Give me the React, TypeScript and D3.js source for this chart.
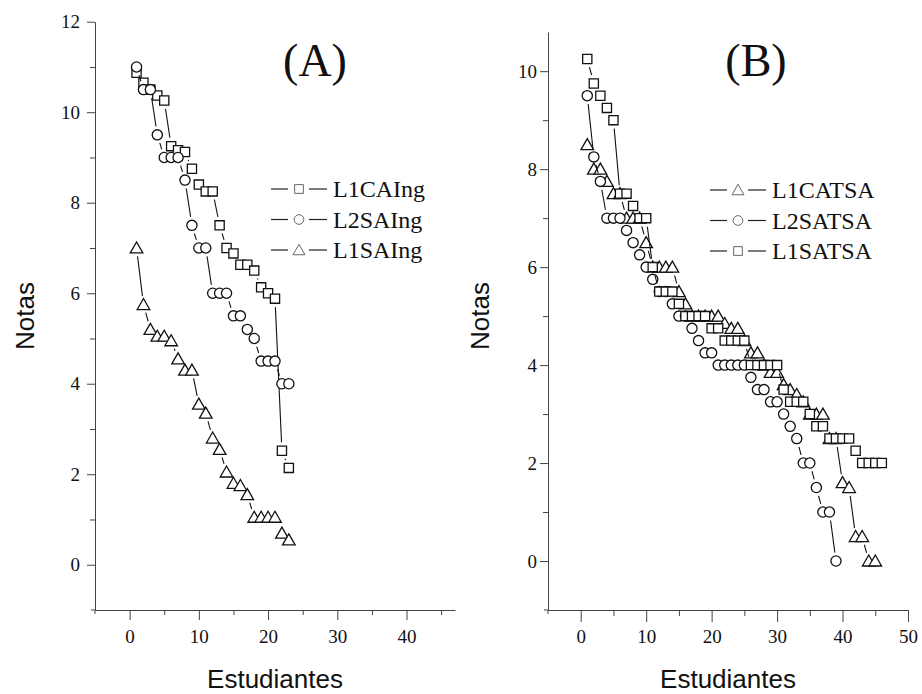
import React, { useEffect, useRef } from "react";
import * as d3 from "d3";

// Panel A: grades per student (sorted), three groups
const l1caIng = [10.87, 10.65, 10.5, 10.37, 10.26, 9.25, 9.16, 9.12, 8.75, 8.4, 8.25, 8.25, 7.5, 7.0, 6.88, 6.63, 6.63, 6.5, 6.13, 6.0, 5.88, 2.52, 2.14];
const l2saIng = [11, 10.5, 10.5, 9.5, 9, 9, 9, 8.5, 7.5, 7, 7, 6, 6, 6, 5.5, 5.5, 5.2, 5.0, 4.5, 4.5, 4.5, 4, 4];
const l1saIng = [7.0, 5.75, 5.2, 5.05, 5.05, 4.95, 4.55, 4.3, 4.3, 3.55, 3.35, 2.8, 2.55, 2.05, 1.8, 1.75, 1.55, 1.05, 1.05, 1.05, 1.05, 0.7, 0.55];

// Panel B
const l1caTsa = [8.5, 8.0, 8.0, 7.75, 7.5, 7.5, 7.0, 7.0, 7.0, 6.5, 6.0, 6.0, 6.0, 6.0, 5.5, 5.25, 5.0, 5.0, 5.0, 5.0, 5.0, 4.85, 4.75, 4.75, 4.5, 4.25, 4.25, 4.0, 3.85, 3.85, 3.6, 3.5, 3.4, 3.25, 3.0, 3.0, 3.0, 2.5, 2.5, 1.6, 1.5, 0.5, 0.5, 0, 0];
const l2saTsa = [9.5, 8.25, 7.75, 7, 7, 7, 6.75, 6.5, 6.25, 6, 5.75, 5.5, 5.5, 5.25, 5, 5, 4.75, 4.5, 4.25, 4.25, 4, 4, 4, 4, 4, 3.75, 3.5, 3.5, 3.25, 3.25, 3, 2.75, 2.5, 2, 2, 1.5, 1, 1, 0];
const l1saTsa = [10.25, 9.75, 9.5, 9.25, 9, 7.5, 7.5, 7.25, 7, 7, 6, 5.5, 5.5, 5.5, 5.25, 5, 5, 5, 5, 4.75, 4.75, 4.5, 4.5, 4.5, 4.5, 4, 4, 4, 4, 4, 3.5, 3.25, 3.25, 3.25, 3, 2.75, 2.75, 2.5, 2.5, 2.5, 2.5, 2.25, 2, 2, 2, 2];

const xTicksA = [0, 10, 20, 30, 40];
const xMinorA = [5, 15, 25, 35, 45];
const yTicksA = [0, 2, 4, 6, 8, 10, 12];
const yMinorA = [1, 3, 5, 7, 9, 11];
const xTicksB = [0, 10, 20, 30, 40, 50];
const xMinorB = [5, 15, 25, 35, 45];
const yTicksB = [0, 2, 4, 6, 8, 10];
const yMinorB = [1, 3, 5, 7, 9];

const serif = "'Liberation Serif', 'Times New Roman', serif";
const sans = "'Liberation Sans', Arial, sans-serif";

function markerPath(shape, k = 1) {
  if (shape === "square") {
    const s = 4.6 * k;
    return `M${-s},${-s}h${2 * s}v${2 * s}h${-2 * s}Z`;
  }
  if (shape === "circle") return d3.symbol(d3.symbolCircle, Math.PI * 26 * k * k)();
  return `M0,${-6 * k}L${6.3 * k},${5 * k}L${-6.3 * k},${5 * k}Z`;
}

function drawPanel(svg, cfg) {
  const x = d3.scaleLinear().domain(cfg.xDomain).range([cfg.left, cfg.right]);
  const y = d3.scaleLinear().domain(cfg.yDomain).range([cfg.bottom, cfg.top]);
  const g = svg.append("g");

  const xAxis = g.append("g").attr("transform", `translate(0,${cfg.bottom})`)
    .call(d3.axisBottom(x).tickValues(cfg.xTicks).tickSize(cfg.xTickLen).tickSizeOuter(0).tickPadding(cfg.xPad).tickFormat(d3.format("d")));
  g.append("g").attr("transform", `translate(0,${cfg.bottom})`)
    .call(d3.axisBottom(x).tickValues(cfg.xMinor).tickSize(cfg.xTickLen / 2).tickFormat(() => ""))
    .call((s) => s.select(".domain").remove());
  const yAxis = g.append("g").attr("transform", `translate(${cfg.left},0)`)
    .call(d3.axisLeft(y).tickValues(cfg.yTicks).tickSize(8).tickSizeOuter(0).tickPadding(cfg.yPad).tickFormat(d3.format("d")));
  g.append("g").attr("transform", `translate(${cfg.left},0)`)
    .call(d3.axisLeft(y).tickValues(cfg.yMinor).tickSize(5).tickFormat(() => ""))
    .call((s) => s.select(".domain").remove());
  g.append("line").attr("x1", cfg.left - 4).attr("x2", cfg.left).attr("y1", cfg.bottom).attr("y2", cfg.bottom);
  g.append("line").attr("x1", cfg.left).attr("x2", cfg.left).attr("y1", cfg.bottom).attr("y2", cfg.bottom + 4);
  g.selectAll("line, path.domain").attr("stroke", "#444").attr("stroke-width", 1);
  [xAxis, yAxis].forEach((a) => {
    a.attr("font-family", serif).attr("font-size", 19);
    a.selectAll("text").attr("font-family", serif).attr("font-size", 19).attr("fill", "#111");
  });

  // series: gapped connecting lines then open markers
  cfg.series.forEach((s) => {
    const pts = s.values.map((v, i) => [x(i + 1), y(v)]);
    const gap = 8.5;
    const segs = [];
    for (let i = 0; i < pts.length - 1; i++) {
      const [x0, y0] = pts[i];
      const [x1, y1] = pts[i + 1];
      const len = Math.hypot(x1 - x0, y1 - y0);
      if (len <= 2 * gap + 1) continue;
      const ux = (x1 - x0) / len, uy = (y1 - y0) / len;
      segs.push([x0 + ux * gap, y0 + uy * gap, x1 - ux * gap, y1 - uy * gap]);
    }
    g.append("g").selectAll("line").data(segs).enter().append("line")
      .attr("x1", (d) => d[0]).attr("y1", (d) => d[1]).attr("x2", (d) => d[2]).attr("y2", (d) => d[3])
      .attr("stroke", "#111").attr("stroke-width", 1.1);
    g.append("g").selectAll("path").data(pts).enter().append("path")
      .attr("d", markerPath(s.shape))
      .attr("transform", (d) => `translate(${d[0]},${d[1]})`)
      .attr("fill", "#fff").attr("stroke", "#111").attr("stroke-width", 1.3);
  });

  // legend
  const lg = g.append("g").attr("transform", `translate(${cfg.legendX},${cfg.legendY})`);
  cfg.legend.forEach((s, i) => {
    const row = lg.append("g").attr("transform", `translate(0,${i * 30.5})`);
    row.append("line").attr("x1", 0).attr("x2", 17).attr("stroke", "#222").attr("stroke-width", 1.2);
    row.append("line").attr("x1", 38).attr("x2", 56).attr("stroke", "#222").attr("stroke-width", 1.2);
    row.append("path").attr("d", markerPath(s.shape, 0.95)).attr("transform", "translate(28,0)")
      .attr("fill", "#fff").attr("stroke", "#666").attr("stroke-width", 1);
    row.append("text").attr("x", 62).attr("y", 8).attr("font-family", serif).attr("font-size", 24)
      .attr("fill", "#111").text(s.label);
  });

  g.append("text").attr("x", cfg.titleX).attr("y", 76).attr("text-anchor", "middle")
    .attr("font-family", serif).attr("font-size", 46).attr("fill", "#111").text(cfg.title);
  g.append("text").attr("x", (cfg.left + cfg.right) / 2).attr("y", 688).attr("text-anchor", "middle")
    .attr("font-family", sans).attr("font-size", 26).attr("fill", "#111").text("Estudiantes");
  g.append("text").attr("transform", `translate(${cfg.yLabelX},316) rotate(-90)`).attr("text-anchor", "middle")
    .attr("font-family", sans).attr("font-size", 26).attr("fill", "#111").text("Notas");
}

export default function App() {
  const ref = useRef(null);
  useEffect(() => {
    const svg = d3.select(ref.current);
    svg.selectAll("*").remove();
    drawPanel(svg, {
      left: 95, right: 455, bottom: 610, top: 21.7,
      xDomain: [-5, 47], yDomain: [-1, 12],
      xTicks: xTicksA, xMinor: xMinorA, yTicks: yTicksA, yMinor: yMinorA,
      xTickLen: 10, xPad: 10, yPad: 7,
      title: "(A)", titleX: 315, yLabelX: 34,
      legendX: 271, legendY: 189,
      series: [
        { values: l1caIng, shape: "square" },
        { values: l2saIng, shape: "circle" },
        { values: l1saIng, shape: "triangle" },
      ],
      legend: [
        { label: "L1CAIng", shape: "square" },
        { label: "L2SAIng", shape: "circle" },
        { label: "L1SAIng", shape: "triangle" },
      ],
    });
    drawPanel(svg, {
      left: 548, right: 908, bottom: 610, top: 32,
      xDomain: [-5, 50], yDomain: [-1, 10.8],
      xTicks: xTicksB, xMinor: xMinorB, yTicks: yTicksB, yMinor: yMinorB,
      xTickLen: 12, xPad: 8, yPad: 3,
      title: "(B)", titleX: 756, yLabelX: 489,
      legendX: 710, legendY: 190,
      series: [
        { values: l1caTsa, shape: "triangle" },
        { values: l2saTsa, shape: "circle" },
        { values: l1saTsa, shape: "square" },
      ],
      legend: [
        { label: "L1CATSA", shape: "triangle" },
        { label: "L2SATSA", shape: "circle" },
        { label: "L1SATSA", shape: "square" },
      ],
    });
  }, []);
  return (
    <svg ref={ref} width={922} height={694}
      style={{ position: "absolute", left: 0, top: 0, background: "#fff" }} />
  );
}
